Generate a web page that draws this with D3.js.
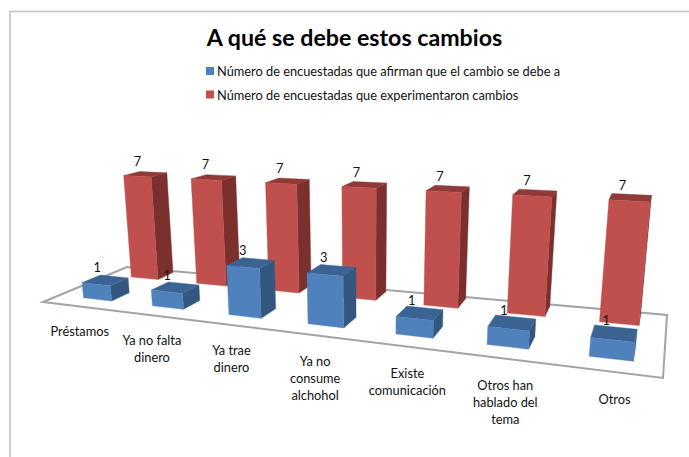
<!DOCTYPE html>
<html>
<head>
<meta charset="utf-8">
<script src="https://cdn.jsdelivr.net/npm/d3@7"></script>
<style>
html, body { margin: 0; background: #fff; }
svg { display: block; }
text { font-family: Lato, "Open Sans", sans-serif; fill: #111; }
</style>
</head>
<body>
<script>
const categories = [
  ["Préstamos"],
  ["Ya no falta", "dinero"],
  ["Ya trae", "dinero"],
  ["Ya no", "consume", "alchohol"],
  ["Existe", "comunicación"],
  ["Otros han", "hablado del", "tema"],
  ["Otros"]
];
const seriesNames = [
  "Número de encuestadas que afirman que el cambio se debe a",
  "Número de encuestadas que experimentaron cambios"
];
const afirman = [1, 1, 3, 3, 1, 1, 1];
const experimentaron = [7, 7, 7, 7, 7, 7, 7];
const title = "A qué se debe estos cambios";

const width = 689, height = 457;

// Floor corners on screen: front-left, front-right, back-right, back-left
const floorCorners = [[43, 302], [663, 378], [667, 315], [127, 267]];
const verticalVanish = [364, 3370];
const unitLift = -0.0048;

// Homography of the unit square onto the floor quadrilateral
function squareToQuad(q) {
  const [[x0, y0], [x1, y1], [x2, y2], [x3, y3]] = q;
  const dx1 = x1 - x2, dx2 = x3 - x2, sx = x0 - x1 + x2 - x3;
  const dy1 = y1 - y2, dy2 = y3 - y2, sy = y0 - y1 + y2 - y3;
  const det = dx1 * dy2 - dx2 * dy1;
  const g = (sx * dy2 - dx2 * sy) / det;
  const h = (dx1 * sy - sx * dy1) / det;
  return [x1 - x0 + g * x1, x3 - x0 + h * x3, x0,
          y1 - y0 + g * y1, y3 - y0 + h * y3, y0,
          g, h];
}
const H = squareToQuad(floorCorners);

// Eases the foreshortening along the category direction
const along = d3.scaleLinear()
  .domain([0, 0.04, 0.33, 0.61, 0.9, 1])
  .range([0, 0.057, 0.368, 0.646, 0.913, 1]);

// Heights grow a little less towards the near end of the floor
const liftGain = d3.scaleLinear().domain([0, 1]).range([1.04, 0.92]);

// u: along the categories, v: depth from front to back, value: bar height
function project(u, v, value) {
  const a = along(u);
  const lift = unitLift * value * liftGain(a);
  const W = H[6] * a + H[7] * v + 1 + lift;
  return [
    (H[0] * a + H[1] * v + H[2] + verticalVanish[0] * lift) / W,
    (H[3] * a + H[4] * v + H[5] + verticalVanish[1] * lift) / W
  ];
}

const x = d3.scaleBand().domain(d3.range(categories.length)).range([0, 1]).paddingInner(0.58).paddingOuter(0.28);
const depth = d3.scaleBand().domain([0, 1]).range([0.05, 1.09]).paddingInner(0.64).paddingOuter(0.22);
const y = d3.scaleLinear().domain([0, 7]).range([0, 7]);

const svg = d3.select("body").append("svg").attr("width", width).attr("height", height);

// Outer frame of the chart area
svg.append("path")
  .attr("d", "M10,457V11.5H689")
  .attr("fill", "none").attr("stroke", "#c4c4c4").attr("stroke-width", 1.6);

svg.append("text")
  .attr("x", 354.5).attr("y", 46)
  .attr("text-anchor", "middle")
  .attr("font-size", 23.2).attr("font-weight", 700)
  .style("fill", "#000")
  .text(title);

// Legend
const legendColors = ["#4F81BD", "#C0504D"];
const legend = svg.append("g").selectAll("g").data(seriesNames).join("g")
  .attr("transform", (d, i) => `translate(206,${67 + i * 23.5})`);
legend.append("rect").attr("width", 8).attr("height", 8).attr("fill", (d, i) => legendColors[i]);
legend.append("text").attr("x", 11).attr("y", 9).attr("font-size", 12.8).text(d => d);

// Floor outline
const line = d3.line();
svg.append("path")
  .attr("d", line([[0, 0], [1, 0], [1, 1], [0, 1]].map(c => project(c[0], c[1], 0))) + "Z")
  .attr("fill", "#fff").attr("stroke", "#a3a3a3").attr("stroke-width", 2);

const seriesStyle = [
  { values: afirman, front: "#4F81BD", top: "#3B6493", side: "#32587F" },
  { values: experimentaron, front: "#C0504D", top: "#8F3A38", side: "#7B302E" }
];

function drawBar(g, i, s, style, value) {
  const u0 = x(i), u1 = x(i) + x.bandwidth();
  const v0 = depth(s), v1 = depth(s) + depth.bandwidth();
  const h = y(value);
  const face = (pts, fill) => g.append("path")
    .attr("d", line(pts.map(p => project(p[0], p[1], p[2]))) + "Z")
    .attr("fill", fill).attr("stroke", fill).attr("stroke-width", 0.4);
  face([[u1, v0, 0], [u1, v1, 0], [u1, v1, h], [u1, v0, h]], style.side);
  face([[u0, v0, h], [u1, v0, h], [u1, v1, h], [u0, v1, h]], style.top);
  face([[u0, v0, 0], [u1, v0, 0], [u1, v0, h], [u0, v0, h]], style.front);
}

// Back row first, so the front row overlaps it
const bars = svg.append("g");
[1, 0].forEach(s => {
  categories.forEach((c, i) => drawBar(bars, i, s, seriesStyle[s], seriesStyle[s].values[i]));
});

// Value labels sit over the centre of each bar's top face
[1, 0].forEach(s => {
  seriesStyle[s].values.forEach((value, i) => {
    const p = project(x(i) + x.bandwidth() / 2, depth(s) + depth.bandwidth() / 2, y(value));
    svg.append("text")
      .attr("x", p[0] - 8).attr("y", p[1] - 8)
      .attr("text-anchor", "middle").attr("font-size", 12.8)
      .text(value);
  });
});

// Category labels hang from a line just in front of the floor
categories.forEach((lines, i) => {
  const p = project(x(i) + x.bandwidth() / 2, -0.1, 0);
  const t = svg.append("text").attr("text-anchor", "middle").attr("font-size", 12.8);
  lines.forEach((l, k) => t.append("tspan").attr("x", p[0] + 8).attr("y", p[1] + 25 + k * 17).text(l));
});
</script>
</body>
</html>
